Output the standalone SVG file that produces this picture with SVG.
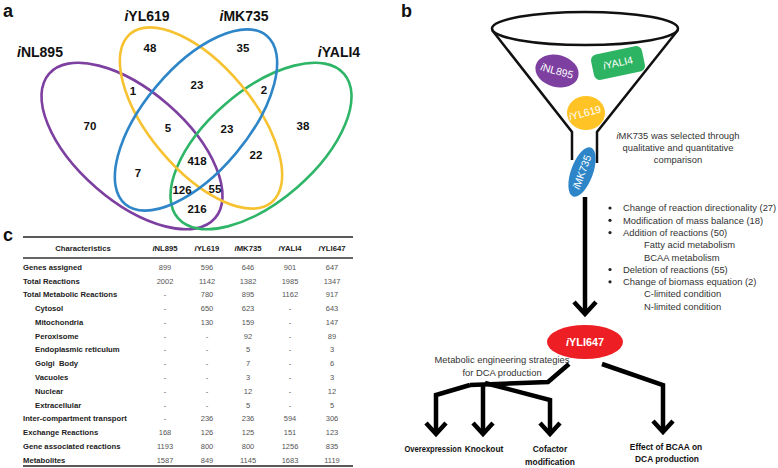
<svg xmlns="http://www.w3.org/2000/svg" width="778" height="468" viewBox="0 0 778 468">
<style>
.panel{font-family:"Liberation Sans",Arial,sans-serif;font-weight:bold;font-size:18px;fill:#111}
.vl{font-family:"Liberation Sans",Arial,sans-serif;font-weight:bold;font-size:14px;fill:#111;text-anchor:middle}
.vn{font-family:"Liberation Sans",Arial,sans-serif;font-weight:bold;font-size:11.5px;fill:#111;text-anchor:middle}
.ve{fill:none;stroke-width:2.6}
.th{font-family:"Liberation Sans",Arial,sans-serif;font-weight:bold;font-size:7.7px;fill:#222;text-anchor:middle}
.rl{font-family:"Liberation Sans",Arial,sans-serif;font-weight:bold;font-size:7.7px;fill:#222}
.tv{font-family:"Liberation Sans",Arial,sans-serif;font-size:7.5px;fill:#555;text-anchor:middle}
.ft{font-family:"Liberation Sans",Arial,sans-serif;font-size:9.4px;fill:#333}
.fl{font-family:"Liberation Sans",Arial,sans-serif;font-size:10.5px;fill:#fff;text-anchor:middle}
.bl{font-family:"Liberation Sans",Arial,sans-serif;font-weight:bold;font-size:8.4px;fill:#111;text-anchor:middle}
.fun{fill:none;stroke:#111;stroke-width:2.5}
.ar{fill:none;stroke:#000;stroke-width:4.5;stroke-linejoin:miter;stroke-linecap:butt}
</style>

<!-- Panel a: Venn -->
<text class="panel" x="3" y="17">a</text>
<g id="venn">
  <ellipse class="ve" stroke="#7D3FA0" cx="132" cy="146" rx="110" ry="55" transform="rotate(41 132 146)"/>
  <ellipse class="ve" stroke="#2EB567" cx="261" cy="146" rx="110" ry="55" transform="rotate(-41 261 146)"/>
  <ellipse class="ve" stroke="#F7C232" cx="201" cy="118" rx="110" ry="52" transform="rotate(50 201 118)"/>
  <ellipse class="ve" stroke="#2E86C8" cx="196" cy="120" rx="110" ry="52" transform="rotate(-50 196 120)"/>
  <text class="vl" x="40" y="57"><tspan font-style="italic">i</tspan>NL895</text>
  <text class="vl" x="147" y="21"><tspan font-style="italic">i</tspan>YL619</text>
  <text class="vl" x="244" y="21"><tspan font-style="italic">i</tspan>MK735</text>
  <text class="vl" x="339" y="57"><tspan font-style="italic">i</tspan>YALI4</text>
  <text class="vn" x="150" y="52">48</text>
  <text class="vn" x="243" y="52">35</text>
  <text class="vn" x="133" y="95">1</text>
  <text class="vn" x="197" y="89">23</text>
  <text class="vn" x="264" y="94">2</text>
  <text class="vn" x="90" y="130">70</text>
  <text class="vn" x="168" y="132">5</text>
  <text class="vn" x="227" y="133">23</text>
  <text class="vn" x="303" y="130">38</text>
  <text class="vn" x="138" y="177">7</text>
  <text class="vn" x="197" y="165">418</text>
  <text class="vn" x="256" y="159">22</text>
  <text class="vn" x="182" y="194">126</text>
  <text class="vn" x="215" y="193">55</text>
  <text class="vn" x="197" y="213">216</text>
</g>

<!-- Panel c: table -->
<text class="panel" x="3" y="241">c</text>
<g id="table">
  <line x1="23" y1="237" x2="353" y2="237" stroke="#222" stroke-width="1.3"/>
  <line x1="23" y1="258" x2="353" y2="258" stroke="#666" stroke-width="2"/>
  <line x1="23" y1="466" x2="353" y2="466" stroke="#222" stroke-width="1.3"/>
  <text class="th" x="83" y="251">Characteristics</text>
  <text class="th" x="165" y="251"><tspan font-style="italic">i</tspan>NL895</text>
  <text class="th" x="207" y="251"><tspan font-style="italic">i</tspan>YL619</text>
  <text class="th" x="248" y="251"><tspan font-style="italic">i</tspan>MK735</text>
  <text class="th" x="290" y="251"><tspan font-style="italic">i</tspan>YALI4</text>
  <text class="th" x="332" y="251"><tspan font-style="italic">i</tspan>YLI647</text>

  <text class="rl" x="23" y="270">Genes assigned</text>
  <text class="rl" x="23" y="283.5">Total Reactions</text>
  <text class="rl" x="23" y="297.3">Total Metabolic Reactions</text>
  <text class="rl" x="35" y="311.1">Cytosol</text>
  <text class="rl" x="35" y="324.8">Mitochondria</text>
  <text class="rl" x="35" y="338.6">Peroxisome</text>
  <text class="rl" x="35" y="352.4">Endoplasmic reticulum</text>
  <text class="rl" x="35" y="366.2" xml:space="preserve">Golgi  Body</text>
  <text class="rl" x="35" y="380">Vacuoles</text>
  <text class="rl" x="35" y="393.8">Nuclear</text>
  <text class="rl" x="35" y="407.5">Extracellular</text>
  <text class="rl" x="23" y="421.3">Inter-compartment transport</text>
  <text class="rl" x="23" y="435.1">Exchange Reactions</text>
  <text class="rl" x="23" y="448.8">Gene associated reactions</text>
  <text class="rl" x="23" y="462.6">Metabolites</text>

  <g class="tv">
    <text x="165" y="270">899</text><text x="207" y="270">596</text><text x="248" y="270">646</text><text x="290" y="270">901</text><text x="332" y="270">647</text>
    <text x="165" y="283.5">2002</text><text x="207" y="283.5">1142</text><text x="248" y="283.5">1382</text><text x="290" y="283.5">1985</text><text x="332" y="283.5">1347</text>
    <text x="165" y="297.3">-</text><text x="207" y="297.3">780</text><text x="248" y="297.3">895</text><text x="290" y="297.3">1162</text><text x="332" y="297.3">917</text>
    <text x="165" y="311.1">-</text><text x="207" y="311.1">650</text><text x="248" y="311.1">623</text><text x="290" y="311.1">-</text><text x="332" y="311.1">643</text>
    <text x="165" y="324.8">-</text><text x="207" y="324.8">130</text><text x="248" y="324.8">159</text><text x="290" y="324.8">-</text><text x="332" y="324.8">147</text>
    <text x="165" y="338.6">-</text><text x="207" y="338.6">-</text><text x="248" y="338.6">92</text><text x="290" y="338.6">-</text><text x="332" y="338.6">89</text>
    <text x="165" y="352.4">-</text><text x="207" y="352.4">-</text><text x="248" y="352.4">5</text><text x="290" y="352.4">-</text><text x="332" y="352.4">3</text>
    <text x="165" y="366.2">-</text><text x="207" y="366.2">-</text><text x="248" y="366.2">7</text><text x="290" y="366.2">-</text><text x="332" y="366.2">6</text>
    <text x="165" y="380">-</text><text x="207" y="380">-</text><text x="248" y="380">3</text><text x="290" y="380">-</text><text x="332" y="380">3</text>
    <text x="165" y="393.8">-</text><text x="207" y="393.8">-</text><text x="248" y="393.8">12</text><text x="290" y="393.8">-</text><text x="332" y="393.8">12</text>
    <text x="165" y="407.5">-</text><text x="207" y="407.5">-</text><text x="248" y="407.5">5</text><text x="290" y="407.5">-</text><text x="332" y="407.5">5</text>
    <text x="165" y="421.3">-</text><text x="207" y="421.3">236</text><text x="248" y="421.3">236</text><text x="290" y="421.3">594</text><text x="332" y="421.3">306</text>
    <text x="165" y="435.1">168</text><text x="207" y="435.1">126</text><text x="248" y="435.1">125</text><text x="290" y="435.1">151</text><text x="332" y="435.1">123</text>
    <text x="165" y="448.8">1193</text><text x="207" y="448.8">800</text><text x="248" y="448.8">800</text><text x="290" y="448.8">1256</text><text x="332" y="448.8">835</text>
    <text x="165" y="462.6">1587</text><text x="207" y="462.6">849</text><text x="248" y="462.6">1145</text><text x="290" y="462.6">1683</text><text x="332" y="462.6">1119</text>
  </g>
</g>

<!-- Panel b -->
<text class="panel" x="401" y="17">b</text>
<g id="funnel">
  <ellipse class="fun" cx="585" cy="28.5" rx="93" ry="16.5"/>
  <polyline class="fun" points="492,30 572,132 572,160"/>
  <polyline class="fun" points="678,30 597,132 597,163"/>
</g>
<g id="iNL895">
  <ellipse cx="557" cy="71" rx="22" ry="16" fill="#7D3FA0" transform="rotate(15 557 71)"/>
  <text class="fl" x="557" y="74.5" transform="rotate(15 557 71)"><tspan font-style="italic">i</tspan>NL895</text>
</g>
<g id="iYALI4">
  <rect x="592" y="50" width="52" height="26" rx="6" fill="#2DB462" transform="rotate(-12 618 63)"/>
  <text class="fl" x="618" y="66.5" transform="rotate(-12 618 63)"><tspan font-style="italic">i</tspan>YALI4</text>
</g>
<g id="iYL619">
  <ellipse cx="586" cy="113" rx="19" ry="17" fill="#FFC326"/>
  <text class="fl" x="585" y="116.5" font-size="10" transform="rotate(-15 585 113)"><tspan font-style="italic">i</tspan>YL619</text>
</g>
<g id="iMK735">
  <ellipse cx="582" cy="172" rx="26" ry="11" fill="#2E86C8" transform="rotate(-70 582 172)"/>
  <text class="fl" x="582" y="175.5" transform="rotate(-70 582 172)"><tspan font-style="italic">i</tspan>MK735</text>
</g>
<g id="selection-note">
  <text class="ft" text-anchor="middle" x="678" y="139"><tspan font-style="italic">i</tspan>MK735 was selected through</text>
  <text class="ft" text-anchor="middle" x="678" y="151">qualitative and quantitative</text>
  <text class="ft" text-anchor="middle" x="678" y="163">comparison</text>
</g>
<g id="modifications">
  <circle cx="610" cy="208" r="1.6" fill="#222"/>
  <circle cx="610" cy="220.3" r="1.6" fill="#222"/>
  <circle cx="610" cy="232.6" r="1.6" fill="#222"/>
  <circle cx="610" cy="269.5" r="1.6" fill="#222"/>
  <circle cx="610" cy="281.8" r="1.6" fill="#222"/>
  <text class="ft" x="623" y="211.3">Change of reaction directionality (27)</text>
  <text class="ft" x="623" y="223.6">Modification of mass balance (18)</text>
  <text class="ft" x="623" y="235.9">Addition of reactions (50)</text>
  <text class="ft" x="644" y="248.2">Fatty acid metabolism</text>
  <text class="ft" x="644" y="260.5">BCAA metabolism</text>
  <text class="ft" x="623" y="272.8">Deletion of reactions (55)</text>
  <text class="ft" x="623" y="285.1">Change of biomass equation (2)</text>
  <text class="ft" x="644" y="297.4">C-limited condition</text>
  <text class="ft" x="644" y="309.7">N-limited condition</text>
</g>
<g id="iYLI647">
  <ellipse cx="585" cy="342" rx="38" ry="17" fill="#EE1F24"/>
  <text x="585" y="346" font-family="Liberation Sans, Arial, sans-serif" font-weight="bold" font-size="10.8" fill="#fff" text-anchor="middle"><tspan font-style="italic">i</tspan>YLI647</text>
</g>
<g id="strategy-label">
  <text class="ft" text-anchor="middle" x="502" y="363">Metabolic engineering strategies</text>
  <text class="ft" text-anchor="middle" x="502" y="376">for DCA production</text>
</g>
<g id="connectors">
  <line class="ar" x1="585" y1="197" x2="585" y2="314"/>
  <polyline class="ar" points="574,302 585,314 596,302"/>
  <polyline class="ar" points="569,364 548,382 470,385"/>
  <polyline class="ar" points="470,385 436,395 436,434"/>
  <polyline class="ar" points="426,423 436,434 446,423"/>
  <line class="ar" x1="483" y1="383" x2="483" y2="434"/>
  <polyline class="ar" points="473,423 483,434 493,423"/>
  <polyline class="ar" points="485,383 550,400 550,434"/>
  <polyline class="ar" points="540,423 550,434 560,423"/>
  <polyline class="ar" points="602,364 663,385 663,432"/>
  <polyline class="ar" points="653,421 663,432 673,421"/>
</g>
<g id="outcomes">
  <text class="bl" x="433" y="452" textLength="57" lengthAdjust="spacingAndGlyphs">Overexpression</text>
  <text class="bl" x="484" y="452">Knockout</text>
  <text class="bl" x="550" y="452">Cofactor</text>
  <text class="bl" x="550" y="465">modification</text>
  <text class="bl" x="666" y="450">Effect of BCAA on</text>
  <text class="bl" x="667" y="461.5">DCA production</text>
</g>
</svg>
